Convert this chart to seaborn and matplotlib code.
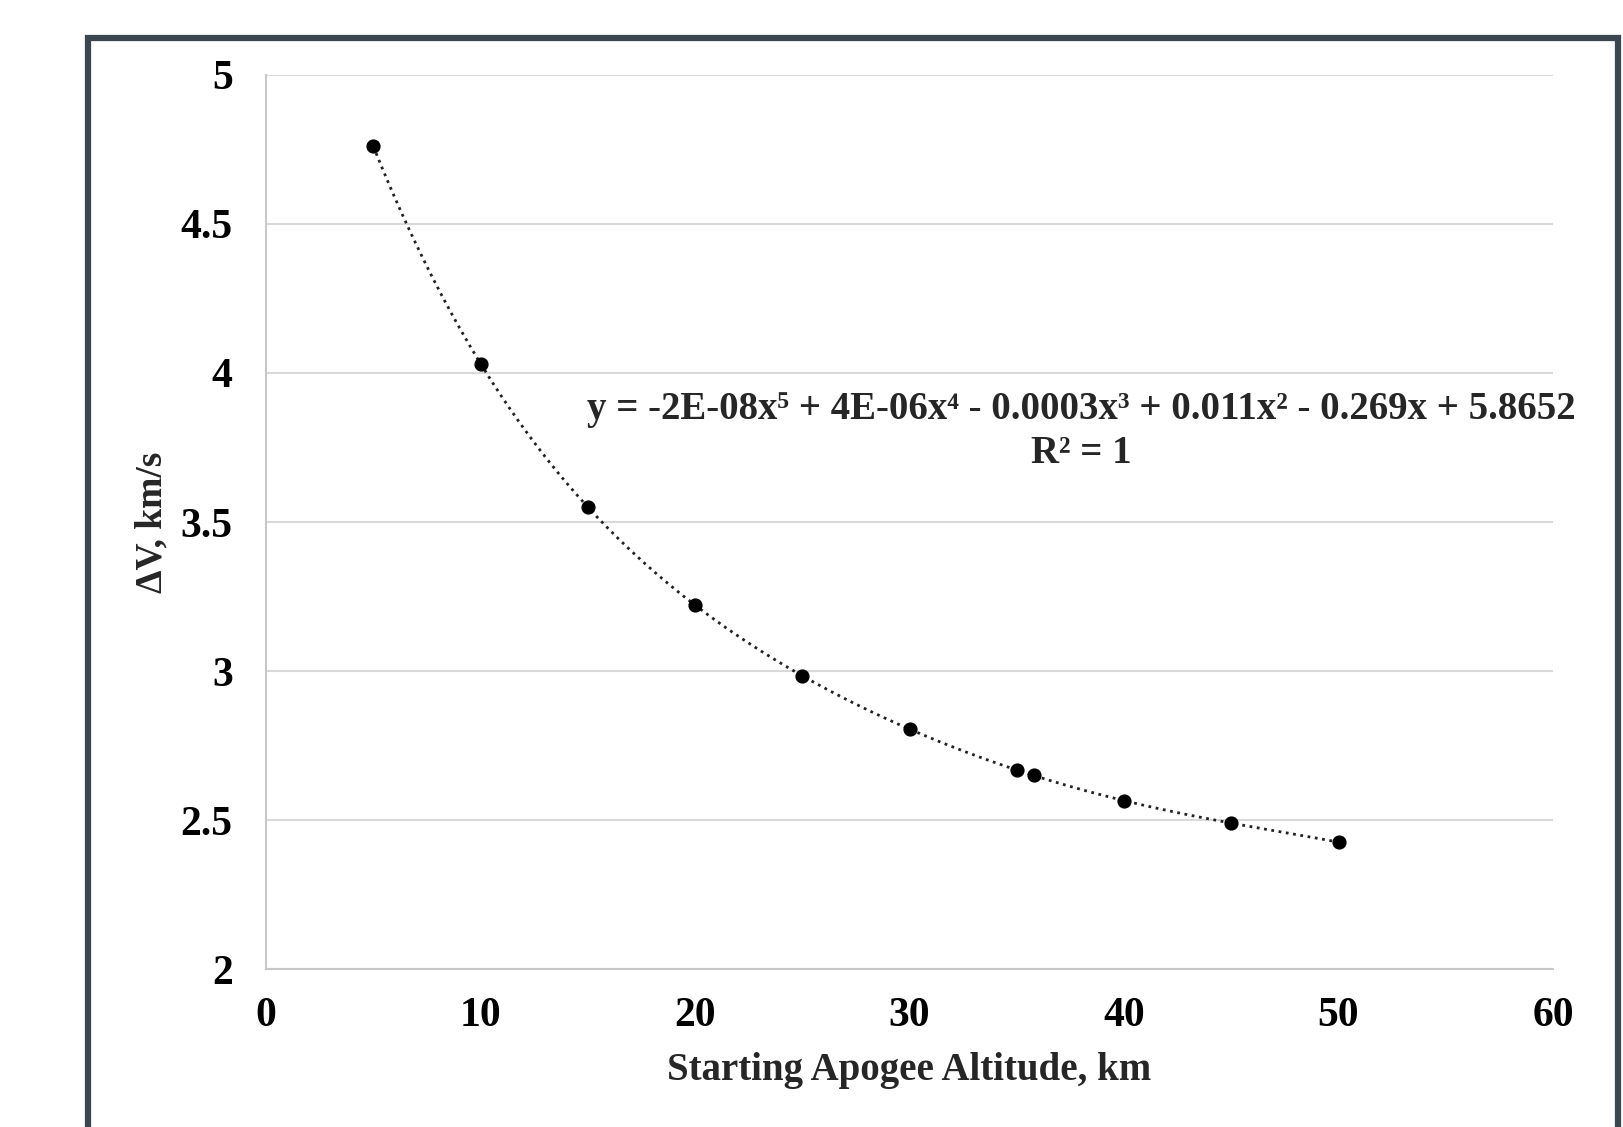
import numpy as np
import pandas as pd
import seaborn as sns
import matplotlib.pyplot as plt
from matplotlib.patches import Rectangle

# Data
altitude = [5, 10, 15, 20, 25, 30, 35, 35.786, 40, 45, 50]
delta_v = [4.76, 4.03, 3.552, 3.222, 2.983, 2.806, 2.667, 2.653, 2.566, 2.490, 2.427]
x_ticks = [0, 10, 20, 30, 40, 50, 60]
y_ticks = [2, 2.5, 3, 3.5, 4, 4.5, 5]
y_tick_labels = ["2", "2.5", "3", "3.5", "4", "4.5", "5"]

df = pd.DataFrame({"alt": altitude, "dv": delta_v})

sns.set_theme(style="white")
plt.rcParams['font.family'] = ['Liberation Serif', 'DejaVu Serif']
plt.rcParams['font.weight'] = 'bold'

fig = plt.figure(figsize=(16.24, 11.27), dpi=100)
ax = fig.add_axes([0.1638, 0.1398, 0.7925, 0.794])

# dark outer frame (bottom edge runs off the image)
frame = Rectangle((0.0539, -0.05), 0.9424, 1.0167, transform=fig.transFigure,
                  fill=False, edgecolor='#3a4650', linewidth=4.5, clip_on=False)
fig.patches.append(frame)

# 5th order polynomial trendline + points
sns.regplot(data=df, x="alt", y="dv", order=5, ci=None, ax=ax,
            scatter_kws=dict(s=85, color='black', edgecolor='black', alpha=1, zorder=3),
            line_kws=dict(color='#222222', linestyle=':', linewidth=2))

ax.set_xlim(0, 60)
ax.set_ylim(2, 5)
ax.set_xticks(x_ticks)
ax.set_yticks(y_ticks)
ax.set_yticklabels(y_tick_labels)
ax.tick_params(axis='both', labelsize=30, length=0, colors='black')
ax.tick_params(axis='x', pad=20)
ax.tick_params(axis='y', pad=24)
for lab in ax.get_xticklabels() + ax.get_yticklabels():
    lab.set_fontweight('bold')

ax.grid(axis='y', color='#d9d9d9', linewidth=1.5)
ax.grid(axis='x', visible=False)
for side in ['top', 'right']:
    ax.spines[side].set_visible(False)
for side in ['left', 'bottom']:
    ax.spines[side].set_color('#c8c8c8')
    ax.spines[side].set_linewidth(1.5)

ax.set_xlabel("Starting Apogee Altitude, km", fontsize=28, fontweight='bold', labelpad=12)
ax.set_ylabel("ΔV, km/s", fontsize=27, fontweight='bold', labelpad=8)

ax.text(38, 3.805,
        "y = -2E-08x⁵ + 4E-06x⁴ - 0.0003x³ + 0.011x² - 0.269x + 5.8652\nR² = 1",
        ha='center', va='center', fontsize=28, fontweight='bold', linespacing=1.25)

fig.savefig("out.png", dpi=100)
